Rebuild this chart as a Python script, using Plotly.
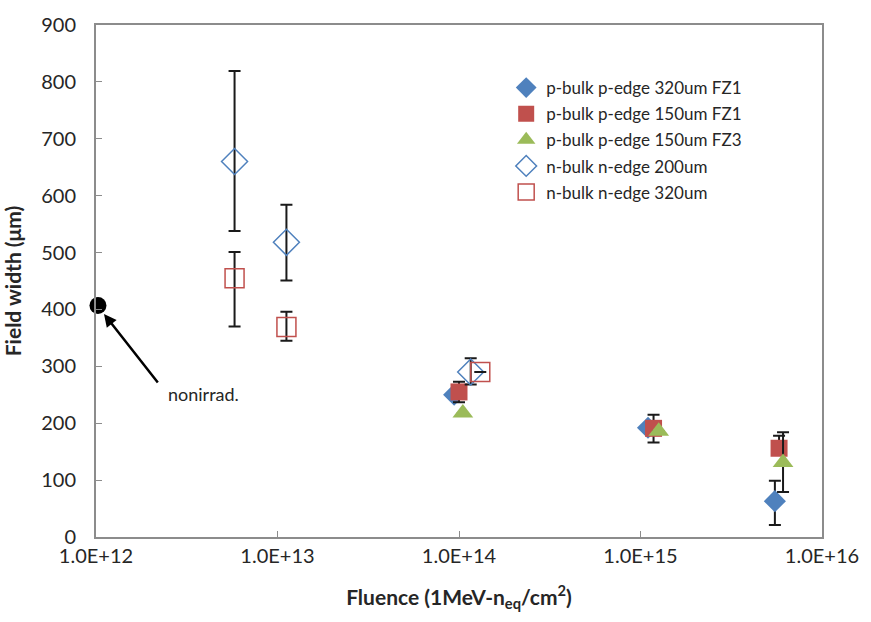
import plotly.graph_objects as go

# ---- data ----
tick_vals = [1e12, 1e13, 1e14, 1e15, 1e16]
tick_labels = ["1.0E+12", "1.0E+13", "1.0E+14", "1.0E+15", "1.0E+16"]

# p-bulk p-edge 320um FZ1
p320_x = [9.4e13, 1.1e15, 5.5e15]
p320_y = [250, 192, 63]
p320_ep = [0, 0, 36]
p320_em = [0, 0, 42]

# p-bulk p-edge 150um FZ1
p150_x = [1.0e14, 1.18e15, 5.8e15]
p150_y = [255, 191, 156]
p150_ep = [18, 24, 22]
p150_em = [18, 25, 0]

# p-bulk p-edge 150um FZ3
p150f3_x = [1.05e14, 1.26e15, 6.1e15]
p150f3_y = [218, 186, 131]
p150f3_ep = [0, 0, 53]
p150f3_em = [0, 0, 52]

# n-bulk n-edge 200um
n200_x = [5.8e12, 1.12e13, 1.16e14]
n200_y = [660, 518, 290]
n200_ep = [159, 66, 24]
n200_em = [122, 67, 22]

# n-bulk n-edge 320um
n320_x = [5.8e12, 1.12e13, 1.31e14]
n320_y = [455, 369, 290]
n320_ep = [46, 27, 0]
n320_em = [85, 24, 0]

# non-irradiated reference
nonirr_x = [1.025e12]
nonirr_y = [407]

BLUE = "#4F81BD"
RED = "#C0504D"
GREEN = "#9BBB59"
FONT = "Lato"
TXT = "#262626"

fig = go.Figure()

def err(ep, em):
    return dict(type="data", symmetric=False, array=ep, arrayminus=em,
                color="#1a1a1a", thickness=2, width=6)

fig.add_trace(go.Scatter(x=p320_x, y=p320_y, mode="markers", name="p-bulk p-edge 320um FZ1",
                         legendgroup="a",
                         marker=dict(symbol="diamond", size=17, color=BLUE),
                         error_y=err(p320_ep, p320_em)))
fig.add_trace(go.Scatter(x=p150_x, y=p150_y, mode="markers", name="p-bulk p-edge 150um FZ1",
                         legendgroup="b",
                         marker=dict(symbol="square", size=17, color=RED),
                         error_y=err(p150_ep, p150_em)))
fig.add_trace(go.Scatter(x=p150f3_x, y=p150f3_y, mode="markers", name="p-bulk p-edge 150um FZ3",
                         legendgroup="c",
                         marker=dict(symbol="triangle-up", size=18, color=GREEN),
                         error_y=err(p150f3_ep, p150f3_em)))
fig.add_trace(go.Scatter(x=n200_x, y=n200_y, mode="markers", name="n-bulk n-edge 200um",
                         legendgroup="d",
                         marker=dict(symbol="diamond-open", size=20, color=BLUE, line=dict(width=1.5)),
                         error_y=err(n200_ep, n200_em)))
fig.add_trace(go.Scatter(x=n320_x, y=n320_y, mode="markers", name="n-bulk n-edge 320um",
                         legendgroup="e",
                         marker=dict(symbol="square-open", size=19, color=RED, line=dict(width=1.5)),
                         error_y=err(n320_ep, n320_em)))
fig.add_trace(go.Scatter(x=nonirr_x, y=nonirr_y, mode="markers", showlegend=False,
                         marker=dict(symbol="circle", size=17, color="black"),
                         cliponaxis=False))

fig.add_annotation(x=12.044, y=392, xref="x", yref="y", text="", showarrow=True,
                   ax=55, ay=70, arrowhead=2, arrowsize=1, arrowwidth=2.5, arrowcolor="black")
fig.add_annotation(x=12.59, y=252, xref="x", yref="y", text="nonirrad.", showarrow=False,
                   font=dict(family=FONT, size=18, color=TXT))

axis_common = dict(showline=True, mirror=True, linecolor="#8c8c8c", linewidth=2,
                   ticks="inside", ticklen=6, tickcolor="#8c8c8c", showgrid=False,
                   zeroline=False, tickfont=dict(family=FONT, size=20, color=TXT))

fig.update_xaxes(type="log", range=[12, 16], tickvals=tick_vals, ticktext=tick_labels,
                 title=dict(text="<b>Fluence (1MeV-n<sub>eq</sub>/cm<sup>2</sup>)</b>",
                            font=dict(family=FONT, size=21, color=TXT), standoff=24),
                 **axis_common)
fig.update_yaxes(range=[0, 900], dtick=100, ticklabelstandoff=14,
                 title=dict(text="<b>Field width (μm)</b>",
                            font=dict(family=FONT, size=21, color=TXT), standoff=14),
                 **axis_common)

fig.update_layout(
    width=871, height=622,
    margin=dict(l=95, r=43, t=16, b=85),
    paper_bgcolor="white", plot_bgcolor="white",
    legend=dict(x=0.565, y=0.912, xanchor="left", yanchor="top",
                font=dict(family=FONT, size=17, color=TXT),
                bgcolor="rgba(0,0,0,0)", tracegroupgap=1),
)

fig.write_html("out.html")
